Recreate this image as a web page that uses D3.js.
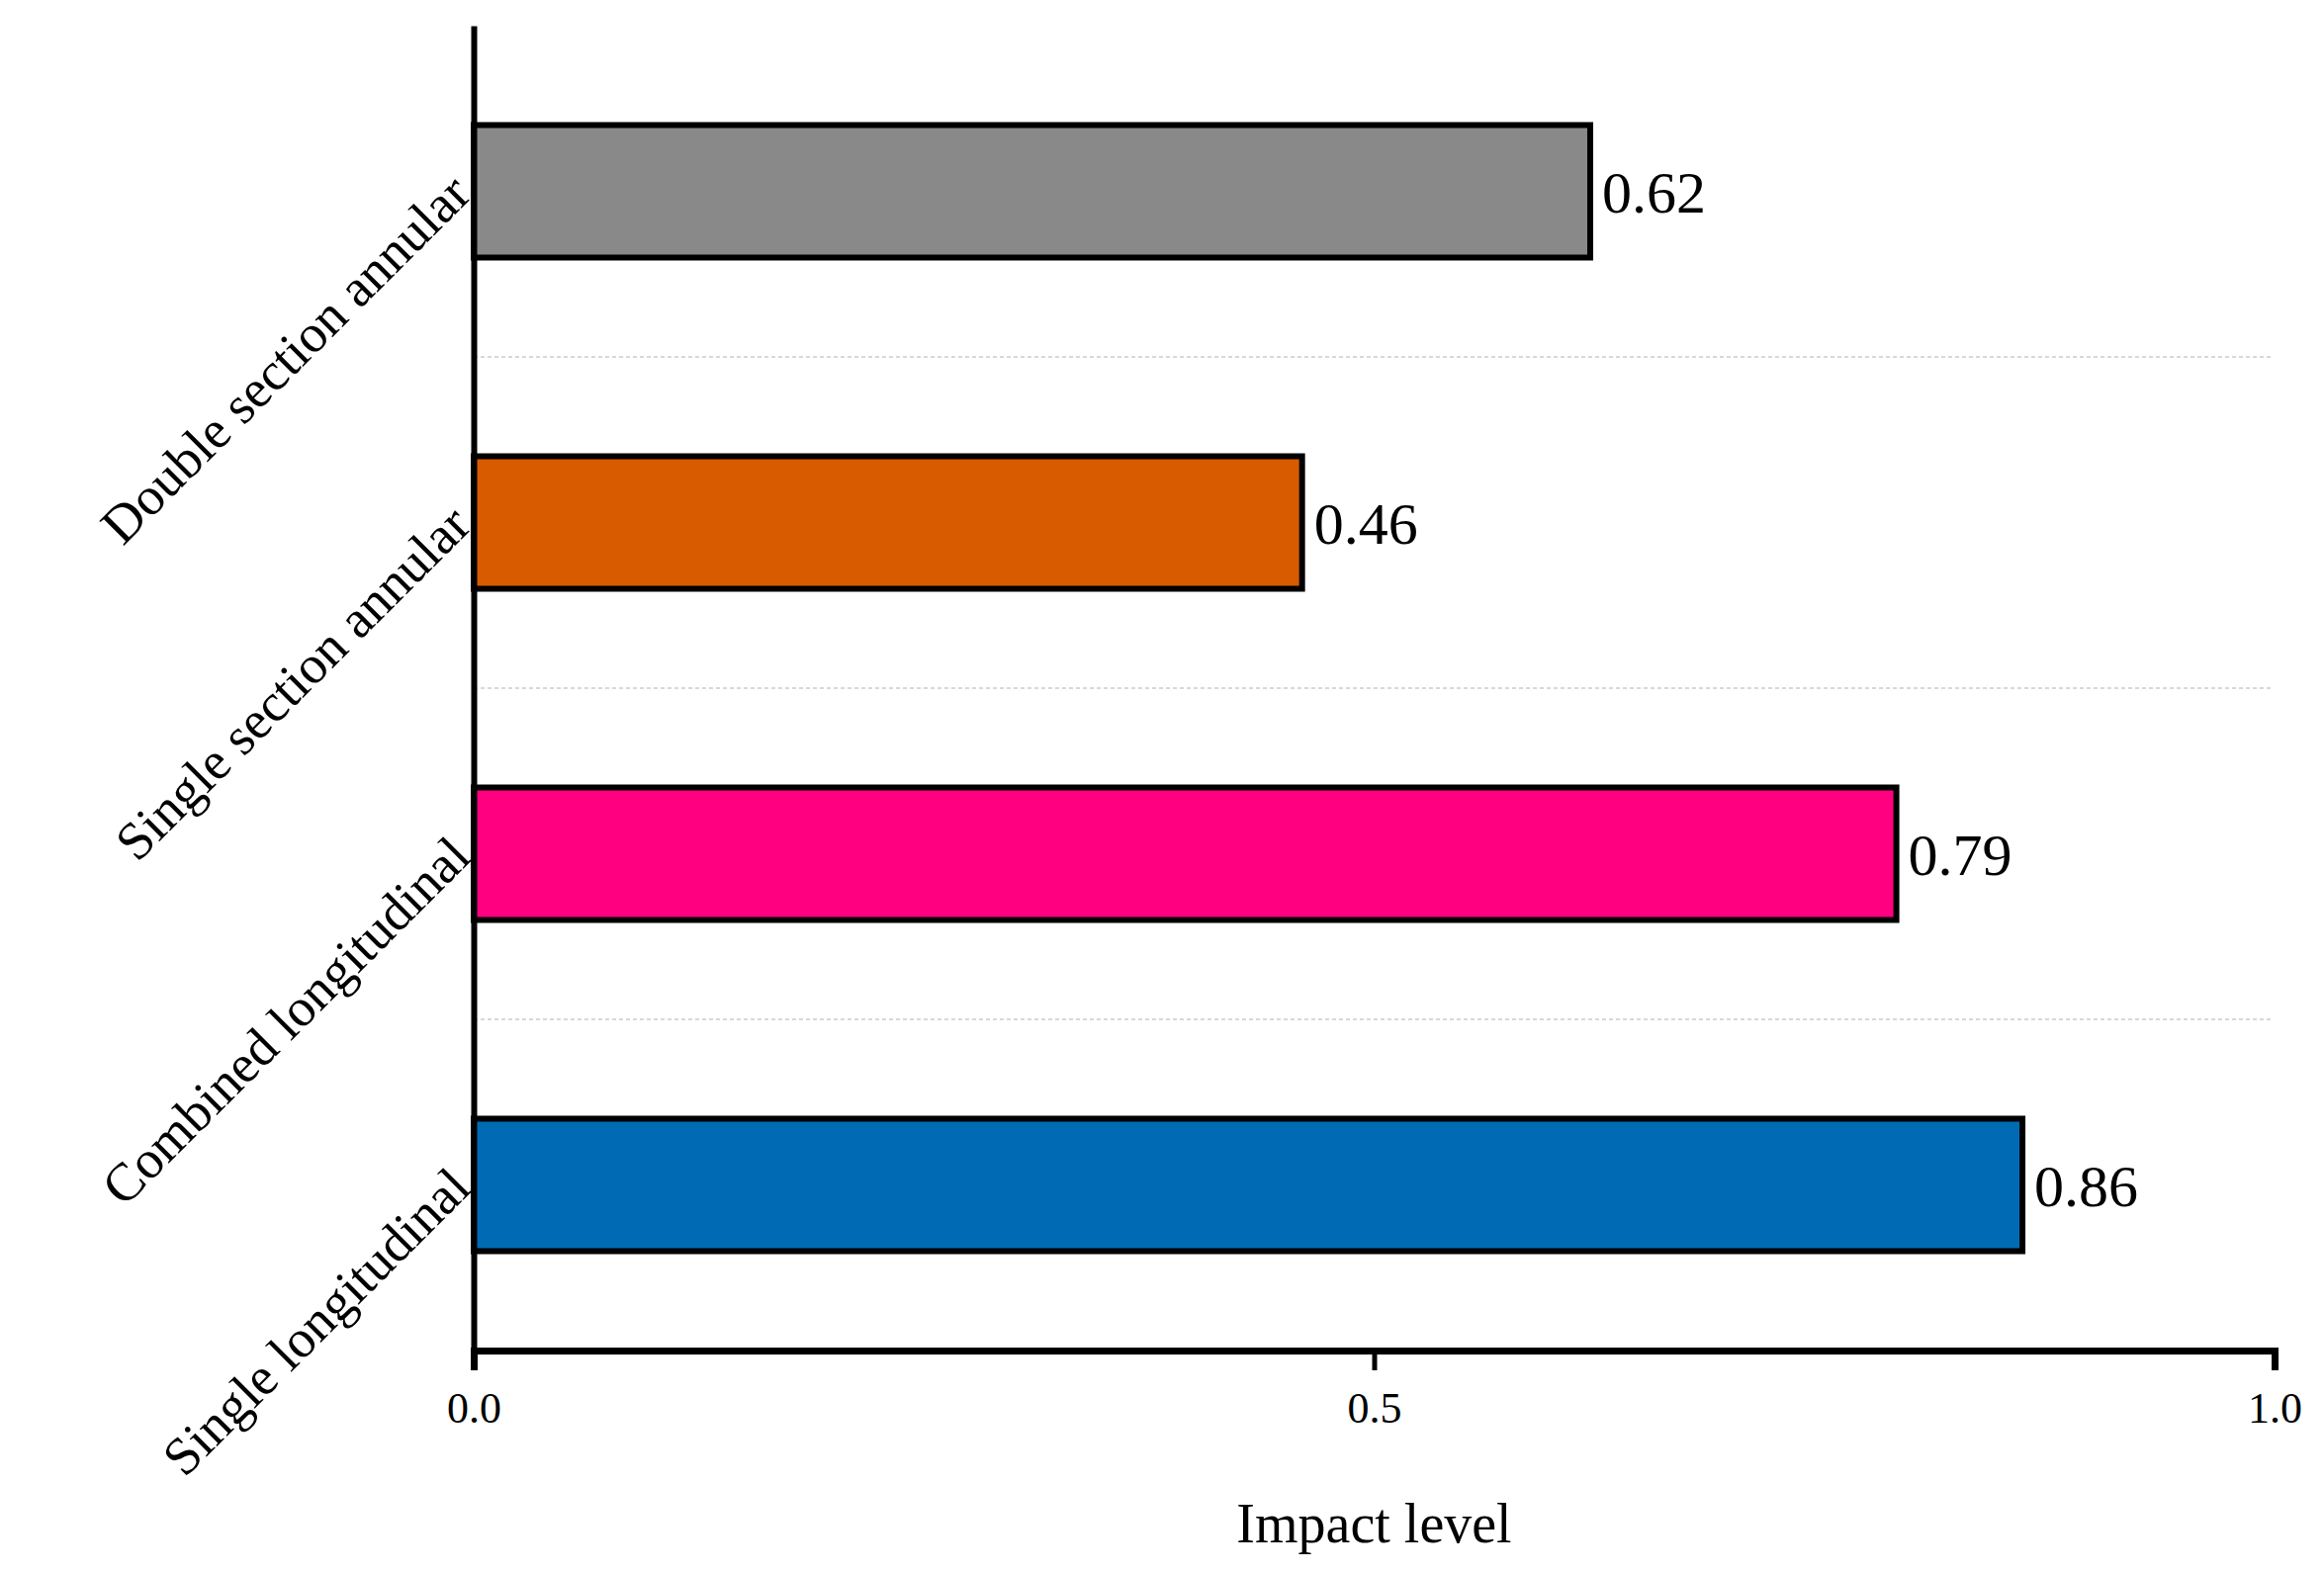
<!DOCTYPE html><html><head><script src="https://d3js.org/d3.v7.min.js"></script>
<style>body{margin:0;background:#fff}</style></head><body><svg id="c" width="2350" height="1590"></svg>
<script>
const categories=["Double section annular","Single section annular","Combined longitudinal","Single longitudinal"];
const values=[0.62,0.46,0.79,0.86];
const colors=["#898989","#d95b00","#ff0080","#006bb4"];
const ticks=[0,0.5,1.0];
const svg=d3.select("#c"), F="'Liberation Serif','Times New Roman',serif";
const x=d3.scaleLinear().domain([0,1]).range([479,2300]);
const y=d3.scaleBand().domain(categories).range([26,1366]).paddingInner(0.6).paddingOuter(0.3);
const step=y.step();
categories.slice(0,3).forEach(c=>{const yy=y(c)+y.bandwidth()/2+step/2;
 svg.append("line").attr("x1",x(0)).attr("x2",2297).attr("y1",yy).attr("y2",yy).attr("stroke","#ccc").attr("stroke-width",1.5).attr("stroke-dasharray","4,3");});
svg.selectAll("rect.b").data(values).enter().append("rect").attr("x",x(0)).attr("y",(d,i)=>y(categories[i]))
 .attr("width",d=>x(d)-x(0)).attr("height",y.bandwidth()).attr("fill",(d,i)=>colors[i]).attr("stroke","#000").attr("stroke-width",6);
svg.selectAll("text.v").data(values).enter().append("text").attr("x",d=>x(d)+12).attr("y",(d,i)=>y(categories[i])+y.bandwidth()/2)
 .attr("dy","0.35em").attr("font-family",F).attr("font-size",60).text(d=>d.toFixed(2));
const xa=svg.append("g").attr("transform","translate(0,1366)").call(d3.axisBottom(x).tickValues(ticks).tickFormat(d3.format(".1f")).tickSizeOuter(0).tickSize(20).tickPadding(22));
xa.select(".domain").attr("stroke-width",7);xa.selectAll(".tick line").attr("stroke-width",5);
xa.selectAll("text").attr("font-family",F).attr("font-size",44);
const ya=svg.append("g").attr("transform","translate(479,0)").call(d3.axisLeft(y).tickSize(0).tickPadding(14));
ya.select(".domain").attr("stroke-width",6);
ya.selectAll("text").attr("font-family",F).attr("font-size",54).attr("text-anchor","end").attr("dy","0.35em")
 .attr("transform",function(d){return `translate(${-14},${y.bandwidth()/2-8}) rotate(-45)`}).attr("x",0).attr("y",0);
ya.selectAll(".tick").attr("transform",d=>`translate(0,${y(d)})`);
svg.append("text").attr("x",x(0.5)).attr("y",1560).attr("text-anchor","middle").attr("font-family",F).attr("font-size",56).text("Impact level");
</script></body></html>
